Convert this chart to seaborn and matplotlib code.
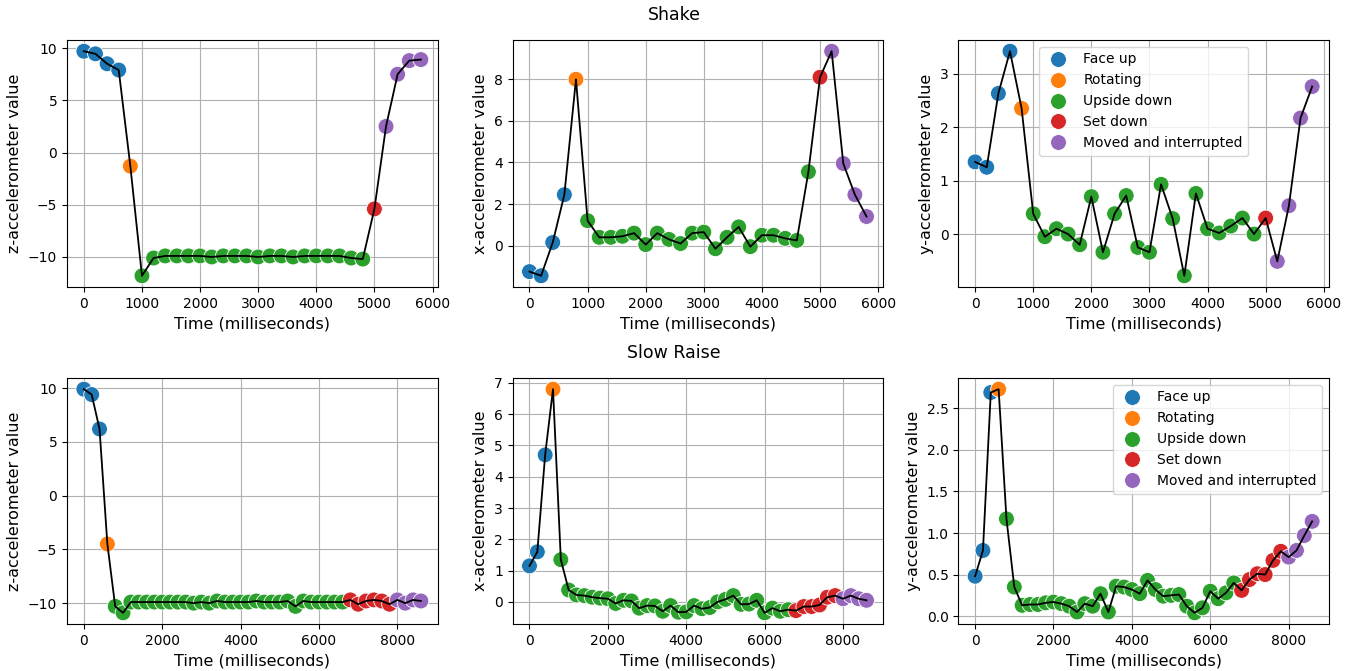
import numpy as np
import pandas as pd
import matplotlib
matplotlib.use("Agg")
import matplotlib.pyplot as plt
import seaborn as sns

# Phase labels shown in the legend
states = ['Face up', 'Rotating', 'Upside down', 'Set down', 'Moved and interrupted']

# Shake recording (one sample every 200 ms)
shake_time = list(range(0, 6000, 200))
shake_state = (['Face up'] * 4 + ['Rotating'] + ['Upside down'] * 20
               + ['Set down'] + ['Moved and interrupted'] * 4)
shake_z = [9.7, 9.45, 8.5, 7.9, -1.3, -11.8, -10.1, -9.9, -9.9, -9.9,
           -9.9, -10.0, -9.9, -9.9, -9.9, -10.0, -9.9, -9.9, -10.0, -9.9,
           -9.9, -9.9, -9.9, -10.1, -10.2, -5.4, 2.5, 7.5, 8.8, 8.9]
shake_x = [-1.25, -1.45, 0.15, 2.45, 8.0, 1.2, 0.4, 0.4, 0.45, 0.6,
           0.05, 0.6, 0.3, 0.1, 0.6, 0.65, -0.15, 0.4, 0.9, -0.05,
           0.5, 0.5, 0.35, 0.25, 3.55, 8.1, 9.35, 3.95, 2.45, 1.4]
shake_y = [1.35, 1.25, 2.63, 3.42, 2.35, 0.38, -0.05, 0.1, 0.0, -0.2,
           0.7, -0.34, 0.38, 0.72, -0.25, -0.34, 0.93, 0.29, -0.78, 0.76,
           0.1, 0.02, 0.15, 0.3, 0.0, 0.3, -0.51, 0.53, 2.17, 2.76]

# Slow raise recording
slow_time = list(range(0, 8800, 200))
slow_state = (['Face up'] * 3 + ['Rotating'] + ['Upside down'] * 30
              + ['Set down'] * 6 + ['Moved and interrupted'] * 4)
slow_z = [9.9, 9.4, 6.2, -4.5, -10.3, -10.9,
          -9.9, -9.9, -9.9, -9.9, -9.9, -9.9, -9.9, -9.9, -10.0, -9.9,
          -10.0, -9.8, -9.9, -9.9, -9.9, -9.9, -9.8, -9.9, -9.9, -9.9,
          -9.8, -10.3, -9.8, -9.9, -9.9, -9.9, -9.9, -9.9,
          -9.7, -10.1, -9.8, -9.7, -9.8, -10.1,
          -9.7, -10.0, -9.7, -9.8]
slow_x = [1.15, 1.6, 4.7, 6.8, 1.35, 0.38, 0.22, 0.2, 0.15, 0.12,
          0.1, -0.05, 0.05, 0.03, -0.2, -0.12, -0.13, -0.3, -0.12, -0.33,
          -0.32, -0.12, -0.22, -0.18, 0.0, 0.08, 0.2, -0.08, -0.07, 0.05,
          -0.35, -0.2, -0.3, -0.25, -0.28, -0.15, -0.15, -0.1, 0.15, 0.2,
          0.1, 0.2, 0.1, 0.05]
slow_y = [0.48, 0.79, 2.69, 2.73, 1.17, 0.35, 0.13, 0.14, 0.14, 0.16,
          0.17, 0.15, 0.12, 0.05, 0.15, 0.12, 0.27, 0.05, 0.36, 0.35,
          0.32, 0.27, 0.43, 0.32, 0.24, 0.25, 0.26, 0.12, 0.04, 0.1,
          0.3, 0.21, 0.28, 0.4, 0.31, 0.44, 0.51, 0.5, 0.67, 0.78,
          0.71, 0.79, 0.97, 1.14]

plt.rcParams['font.family'] = ['DejaVu Sans']

recordings = [
    ('Shake', pd.DataFrame({'time': shake_time, 'state': shake_state,
                            'z': shake_z, 'x': shake_x, 'y': shake_y})),
    ('Slow Raise', pd.DataFrame({'time': slow_time, 'state': slow_state,
                                 'z': slow_z, 'x': slow_x, 'y': slow_y})),
]

W, H = 1348, 671
fig = plt.figure(figsize=(W / 100, H / 100), dpi=100)

# pixel rows: (axes top, axes bottom, title y)
rows = [(40, 287, 15), (378, 624, 353)]

for (title, df), (top, bottom, ty) in zip(recordings, rows):
    fig.text(0.5, 1 - ty / H, title, ha='center', va='center', fontsize=12.5)
    gs = fig.add_gridspec(1, 3, left=67 / W, right=1329 / W,
                          top=1 - top / H, bottom=1 - bottom / H, wspace=0.202)
    for i, axis in enumerate(['z', 'x', 'y']):
        ax = fig.add_subplot(gs[0, i])
        sns.scatterplot(data=df, x='time', y=axis, hue='state', hue_order=states,
                        palette='tab10', s=130, linewidth=0.6, ax=ax,
                        legend=(i == 2), zorder=2)
        sns.lineplot(data=df, x='time', y=axis, color='black', linewidth=1.3,
                     ax=ax, zorder=3)
        ax.set_xlabel('Time (milliseconds)', fontsize=11.5)
        ax.set_ylabel(f'{axis}-accelerometer value', fontsize=11.5)
        ax.tick_params(labelsize=10)
        ax.grid(True, color='#b0b0b0', linewidth=0.8)
        ax.set_axisbelow(True)
        if i == 2:
            if title == 'Shake':
                ax.legend(loc='upper center', fontsize=10)
            else:
                ax.legend(loc='upper right', fontsize=10)

fig.savefig('out.png', dpi=100)
